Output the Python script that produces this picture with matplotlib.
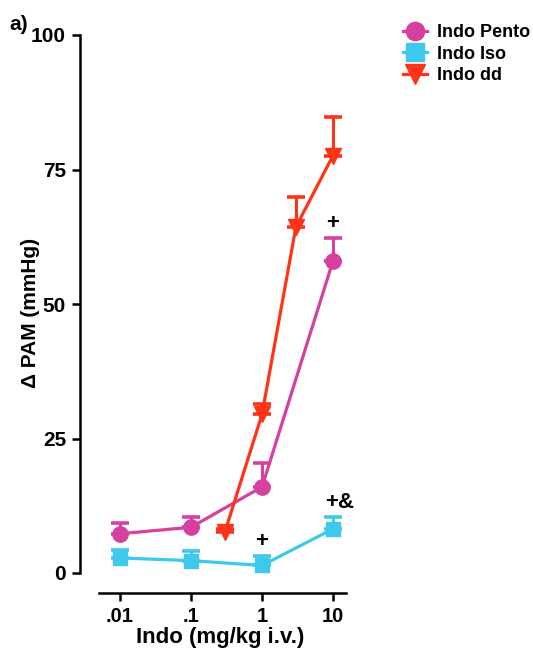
import matplotlib
matplotlib.use("Agg")
import matplotlib.pyplot as plt

plt.rcParams["font.family"] = ["Liberation Sans", "DejaVu Sans"]
plt.rcParams["font.weight"] = "bold"

# dose (mg/kg i.v.) and mean change in PAM with upper SEM
dose_pento = [0.01, 0.1, 1, 10]
pam_pento = [7.3, 8.5, 16.0, 58.0]
sem_pento = [2.0, 2.0, 4.5, 4.3]

dose_iso = [0.01, 0.1, 1, 10]
pam_iso = [2.8, 2.3, 1.4, 8.2]
sem_iso = [1.5, 1.8, 1.7, 2.2]

dose_dd = [0.3, 1, 3, 10]
pam_dd = [7.6, 29.5, 64.3, 77.6]
sem_dd = [0.6, 2.0, 5.5, 7.2]

x_ticks = [0.01, 0.1, 1, 10]
x_ticklabels = [".01", ".1", "1", "10"]
y_ticks = [0, 25, 50, 75, 100]

C_PENTO = "#D6409F"
C_ISO = "#3DC8EC"
C_DD = "#FF3318"

fig = plt.figure(figsize=(5.33, 6.5), dpi=100)
ax = fig.add_axes([99 / 533, 77 / 650, 247 / 533, 538 / 650])

series = [
    (dose_pento, pam_pento, sem_pento, C_PENTO, "o", 11, "Indo Pento"),
    (dose_iso, pam_iso, sem_iso, C_ISO, "s", 10.5, "Indo Iso"),
    (dose_dd, pam_dd, sem_dd, C_DD, "v", 11.5, "Indo dd"),
]
handles = []
for x, y, e, c, m, ms, lab in series:
    ax.errorbar(x, y, yerr=[[0] * len(e), e], fmt="none", ecolor=c,
                elinewidth=2.2, capsize=6.5, capthick=2.6, zorder=2)
    h, = ax.plot(x, y, color=c, lw=2.3, marker=m, ms=ms, mec=c, label=lab, zorder=3)
    handles.append(h)

# significance marks
marks = [
    (1, pam_iso[2] + sem_iso[2], "+", 0),
    (10, pam_iso[3] + sem_iso[3], "+&", 5),
    (10, pam_pento[3] + sem_pento[3], "+", 0),
]
for mx, my, txt, dx in marks:
    ax.annotate(txt, (mx, my), xytext=(dx, 3), textcoords="offset points",
                ha="center", va="bottom", fontsize=16, fontweight="bold")

ax.set_xscale("log")
ax.set_xlim(10 ** -2.296, 10 ** 1.183)
ax.set_ylim(0, 100)
ax.set_xticks(x_ticks)
ax.set_xticklabels(x_ticklabels)
ax.minorticks_off()
ax.set_yticks(y_ticks)

for s in ["top", "right"]:
    ax.spines[s].set_visible(False)
ax.spines["bottom"].set_position(("outward", 14.4))
ax.spines["left"].set_position(("outward", 13.7))
for s in ["bottom", "left"]:
    ax.spines[s].set_linewidth(1.8)
ax.tick_params(width=1.8, length=6, pad=4)
ax.tick_params(axis="y", labelsize=15)
ax.tick_params(axis="x", labelsize=14.5)
for lbl in ax.get_xticklabels() + ax.get_yticklabels():
    lbl.set_fontweight("bold")

ax.set_xlabel("Indo (mg/kg i.v.)", fontsize=16, fontweight="bold")
ax.xaxis.set_label_coords(0.49, -0.1)
ax.set_ylabel("\u0394 PAM (mmHg)", fontsize=15, fontweight="bold")
ax.yaxis.set_label_coords(-0.24, 0.483)

fig.text(9 / 533, 1 - 24 / 650, "a)", fontsize=15, fontweight="bold",
         ha="left", va="center")

ax.legend(handles=handles, loc="upper left", bbox_to_anchor=(387 / 533, 1 - 8 / 650),
          bbox_transform=fig.transFigure, frameon=False,
          handlelength=1.3, handletextpad=0.55, labelspacing=0.25, markerscale=1.2,
          prop={"weight": "bold", "size": 13})

fig.savefig("out.png", dpi=100)
